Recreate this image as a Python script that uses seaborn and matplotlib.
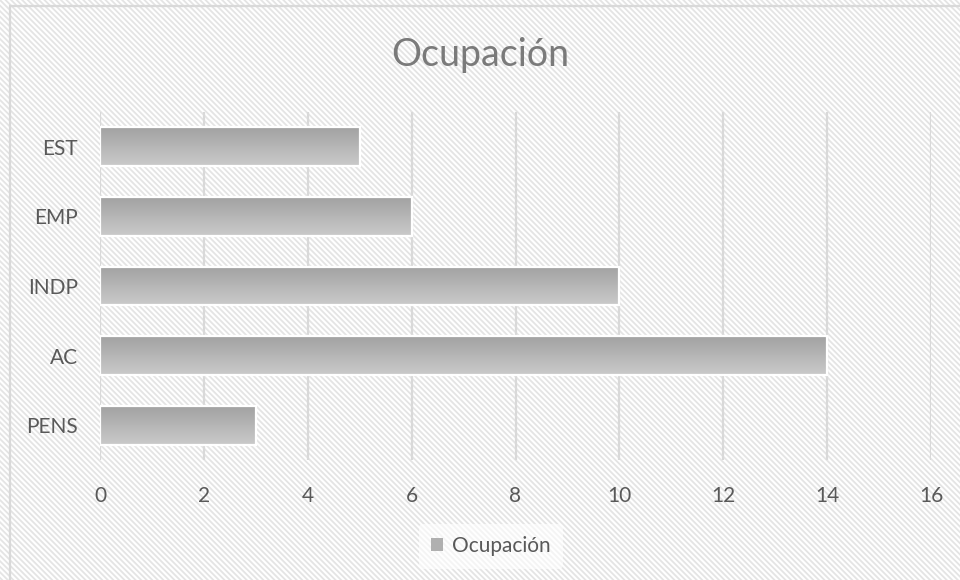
import numpy as np
import pandas as pd
import matplotlib
matplotlib.use("Agg")
import matplotlib.pyplot as plt
import seaborn as sns
from matplotlib.patches import Rectangle, Patch
from matplotlib.lines import Line2D
from matplotlib.colors import LinearSegmentedColormap

categories = ["EST", "EMP", "INDP", "AC", "PENS"]
values = [5, 6, 10, 14, 3]
xticks = [0, 2, 4, 6, 8, 10, 12, 14, 16]
title = "Ocupación"
series_name = "Ocupación"

df = pd.DataFrame({"cat": categories, "val": values})

sns.set_theme(style="white")
plt.rcParams["font.family"] = ["Lato", "DejaVu Sans"]
plt.rcParams["hatch.linewidth"] = 1.3

fig = plt.figure(figsize=(9.6, 5.8), dpi=100)
fig.patch.set_facecolor("white")

# hatched background
bg = Rectangle((0, 0), 1, 1, transform=fig.transFigure, facecolor="white",
               edgecolor="#e4e4e4", hatch="\\" * 6, linewidth=0, zorder=-5)
fig.add_artist(bg)
# chart border (top and left visible)
fig.add_artist(Line2D([10/960, 1], [1-6/580, 1-6/580], transform=fig.transFigure,
                      color="#d9d9d9", lw=1.6, zorder=-4))
fig.add_artist(Line2D([10/960, 10/960], [0, 1-6/580], transform=fig.transFigure,
                      color="#d9d9d9", lw=1.6, zorder=-4))

ax = fig.add_axes([100/960, (580-460)/580, 831/960, 348/580])
ax.set_facecolor("none")

sns.barplot(data=df, x="val", y="cat", orient="h", ax=ax, color="#b4b4b4",
            width=0.56, edgecolor="white", linewidth=1.6, zorder=3)

cmap = LinearSegmentedColormap.from_list("g", ["#a2a2a2", "#cacaca"])
grad = np.linspace(0, 1, 256).reshape(-1, 1)
for p in ax.patches:
    x0, y0 = p.get_x(), p.get_y()
    w, h = p.get_width(), p.get_height()
    ax.imshow(grad, extent=(x0, x0 + w, y0 + h, y0), origin="upper",
              aspect="auto", cmap=cmap, zorder=2.5, interpolation="bilinear")
    p.set_facecolor("none")

ax.set_xlim(0, 16)
ax.set_ylim(len(categories) - 0.5, -0.5)
ax.set_xticks(xticks)
ax.set_xticklabels([str(t) for t in xticks])
ax.grid(axis="x", color="#d9d9d9", lw=1.6, zorder=0)
ax.grid(axis="y", visible=False)
ax.set_axisbelow(True)
for s in ax.spines.values():
    s.set_visible(False)
ax.set_xlabel("")
ax.set_ylabel("")
ax.tick_params(axis="x", length=0, pad=19, labelsize=15, labelcolor="#595959")
ax.tick_params(axis="y", length=0, pad=16, labelsize=15, labelcolor="#595959")

ttl = fig.text(0.5, 1 - 55/580, title, ha="center", va="center", fontsize=27,
               color="#7a7a7a", fontweight="normal")

handle = Patch(facecolor="#b0b0b0", edgecolor="none")
leg = fig.legend([handle], [series_name], loc="center",
                 bbox_to_anchor=(491/960, 1 - 546/580), frameon=True,
                 fontsize=15, handlelength=0.55, handleheight=0.55,
                 handletextpad=0.45, borderpad=0.6)
leg.get_frame().set_facecolor("white")
leg.get_frame().set_alpha(0.6)
leg.get_frame().set_edgecolor("none")
for t in leg.get_texts():
    t.set_color("#595959")

fig.savefig("out.png", dpi=100)
